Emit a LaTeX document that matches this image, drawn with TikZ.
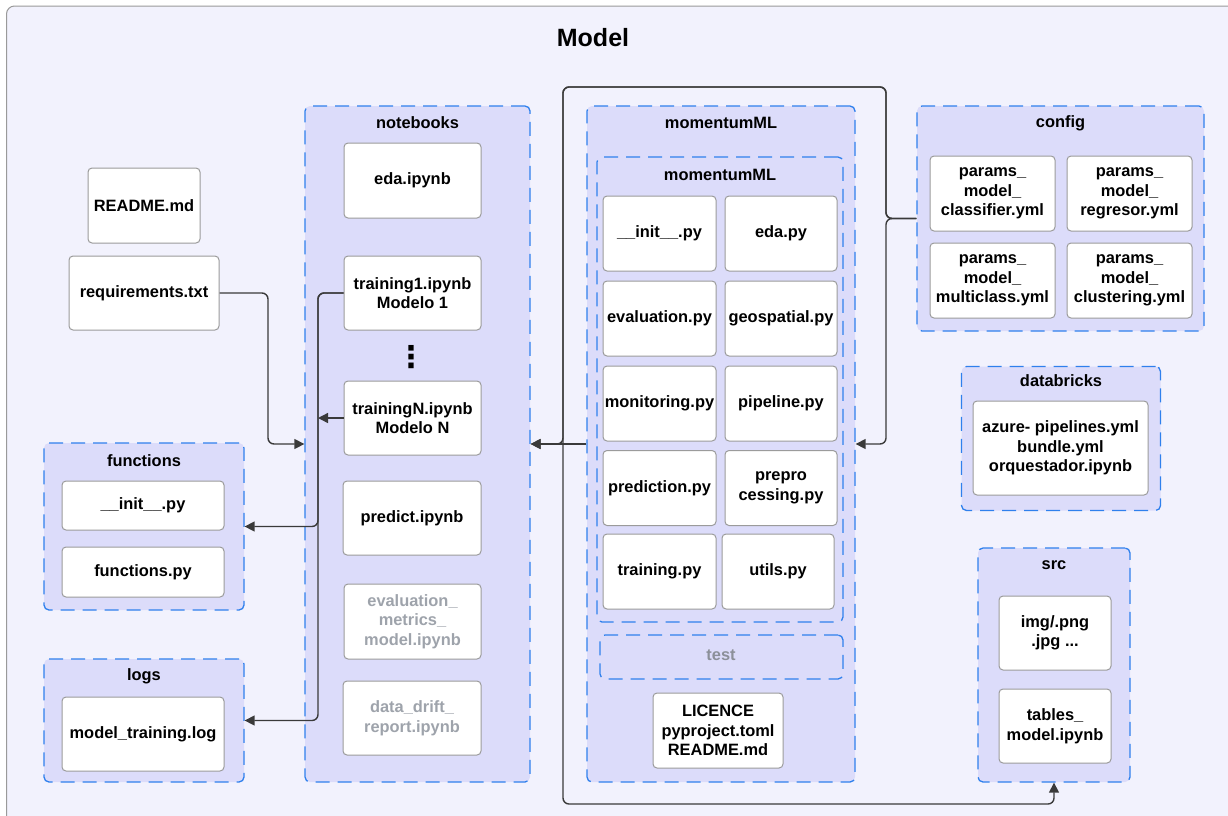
\documentclass[tikz,border=0pt]{standalone}
\usepackage{fontspec}
\setmainfont{Liberation Sans}
\newfontfamily\dejavu{DejaVu Sans}
\usetikzlibrary{arrows.meta}
\definecolor{outerfill}{HTML}{F2F2FD}
\definecolor{outerline}{HTML}{9A9A9A}
\definecolor{folderfill}{HTML}{DCDCFA}
\definecolor{folderline}{HTML}{2F80ED}
\definecolor{fileline}{HTML}{9B9B9B}
\definecolor{connline}{HTML}{3A3A3A}
\definecolor{greytext}{HTML}{9EA3AB}
\definecolor{testtext}{HTML}{8C9099}
\tikzset{
  every node/.style={font=\fontsize{16.4}{19.5}\selectfont\bfseries, inner sep=0pt, align=center},
  file/.style={draw=fileline, fill=white, line width=1pt, rounded corners=4pt},
  folder/.style={draw=folderline, fill=folderfill, line width=1.3pt, rounded corners=5pt, dash pattern=on 14pt off 8pt},
  ftitle/.style={},
  faded/.style={text=greytext},
  conn/.style={draw=connline, line width=1.4pt, rounded corners=6pt, -{Triangle[length=10pt,width=10pt]}}
}
\begin{document}
\begin{tikzpicture}[x=1pt,y=-1pt]
\useasboundingbox (0,0) rectangle (1228,815);
\clip (0,0) rectangle (1228,815);
\fill[white] (0,0) rectangle (1228,815);
\draw[draw=outerline, fill=outerfill, line width=1pt, rounded corners=8pt] (6.5,6) rectangle (1245,835);
\node[font=\fontsize{25}{30}\selectfont\bfseries] (title) at (593,38) {Model};

% top-level files
\node[file, minimum width=112pt, minimum height=75pt] (readme) at (144,205.5) {README.md};
\node[file, minimum width=150pt, minimum height=74pt] (requirements) at (144,293) {requirements.txt};

% notebooks
\node[folder, minimum width=225pt, minimum height=676pt] (notebooks) at (417.5,444) {};
\node[ftitle] (notebookst) at (417.5,123) {notebooks};
\node[file, minimum width=137pt, minimum height=75pt] (eda) at (412.5,180.5) {eda.ipynb};
\node[file, minimum width=137pt, minimum height=74pt] (training1) at (412.5,293) {training1.ipynb\\Modelo 1};
\node[font=\dejavu\fontsize{30}{30}\selectfont\bfseries] (dots) at (411,357) {⋮};
\node[file, minimum width=137pt, minimum height=74pt] (trainingN) at (412.5,418) {trainingN.ipynb\\Modelo N};
\node[file, minimum width=138pt, minimum height=74pt] (predict) at (412,518) {predict.ipynb};
\node[file, faded, minimum width=137pt, minimum height=75pt] (evalnb) at (412.5,621.5) {evaluation\_\\metrics\_\\model.ipynb};
\node[file, faded, minimum width=138pt, minimum height=74pt] (drift) at (412,718) {data\_drift\_\\report.ipynb};

% functions
\node[folder, minimum width=200pt, minimum height=167pt] (functions) at (144,526.5) {};
\node[ftitle] (functionst) at (144,461) {functions};
\node[file, minimum width=162pt, minimum height=49pt] (finit) at (143,505.5) {\_\_init\_\_.py};
\node[file, minimum width=162pt, minimum height=50pt] (fpy) at (143,572) {functions.py};

% logs
\node[folder, minimum width=200pt, minimum height=123pt] (logs) at (144,720.5) {};
\node[ftitle] (logst) at (144,676) {logs};
\node[file, minimum width=162pt, minimum height=74pt] (mtlog) at (143,734) {model\_training.log};

% momentumML
\node[folder, minimum width=268pt, minimum height=676pt] (mml) at (721,444) {};
\node[ftitle] (mmlt) at (721,123) {momentumML};
\node[folder, minimum width=246pt, minimum height=465pt] (mmlin) at (720,389.5) {};
\node[ftitle] (mmlint) at (720,175) {momentumML};
\node[file, minimum width=113pt, minimum height=75pt] (pinit) at (659.5,233.5) {\_\_init\_\_.py};
\node[file, minimum width=112pt, minimum height=75pt] (peda) at (781,233.5) {eda.py};
\node[file, minimum width=113pt, minimum height=75pt] (peval) at (659.5,318.5) {evaluation.py};
\node[file, minimum width=112pt, minimum height=75pt] (pgeo) at (781,318.5) {geospatial.py};
\node[file, minimum width=113pt, minimum height=75pt] (pmon) at (659.5,403.5) {monitoring.py};
\node[file, minimum width=112pt, minimum height=75pt] (ppipe) at (781,403.5) {pipeline.py};
\node[file, minimum width=113pt, minimum height=75pt] (ppred) at (659.5,488) {prediction.py};
\node[file, minimum width=112pt, minimum height=75pt] (ppre) at (781,488) {prepro\\cessing.py};
\node[file, minimum width=113pt, minimum height=75pt] (ptrain) at (659.5,571.5) {training.py};
\node[file, minimum width=112pt, minimum height=75pt] (putils) at (778,571.5) {utils.py};
\node[folder, minimum width=243pt, minimum height=44pt] (test) at (721.5,657) {};
\node[text=testtext] (testt) at (721,655) {test};
\node[file, minimum width=130pt, minimum height=75pt] (licence) at (718,730.5) {LICENCE\\pyproject.toml\\README.md};

% config
\node[folder, minimum width=287pt, minimum height=225pt] (config) at (1060.5,218.5) {};
\node[ftitle] (configt) at (1060.5,123) {config};
\node[file, minimum width=125pt, minimum height=75pt] (pclass) at (992.5,193.5) {params\_\\model\_\\classifier.yml};
\node[file, minimum width=125pt, minimum height=75pt] (preg) at (1129.5,193.5) {params\_\\model\_\\regresor.yml};
\node[file, minimum width=125pt, minimum height=75pt] (pmulti) at (992.5,280.5) {params\_\\model\_\\multiclass.yml};
\node[file, minimum width=125pt, minimum height=75pt] (pclust) at (1129.5,280.5) {params\_\\model\_\\clustering.yml};

% databricks
\node[folder, minimum width=199pt, minimum height=144pt] (databricks) at (1061,438.5) {};
\node[ftitle] (databrickst) at (1061,381) {databricks};
\node[file, minimum width=175pt, minimum height=94pt] (dbfiles) at (1060.5,448) {azure- pipelines.yml\\bundle.yml\\orquestador.ipynb};

% src
\node[folder, minimum width=152pt, minimum height=234pt] (src) at (1054,665) {};
\node[ftitle] (srct) at (1054,565) {src};
\node[file, minimum width=112pt, minimum height=74pt] (img) at (1055,633) {img/.png\\.jpg ...};
\node[file, minimum width=112pt, minimum height=74pt] (tables) at (1055,726) {tables\_\\model.ipynb};

% connectors
\coordinate (tnv) at (318,418);
\draw[conn] (requirements.east) -| (268,444) -- (notebooks.west);
\draw[conn] (training1.west) -| (318,526.5) -- (functions.east);
\draw[conn] (training1.west) -| (318,720.5) -- (logs.east);
\draw[conn] (trainingN.west) -- (tnv);
\draw[conn] (config.west) -| (886,444) -- (mml.east);
\draw[conn] (config.west) -| (886,87) -| (563,444) -- (notebooks.east);
\draw[conn] (config.west) -| (886,87) -| (563,804) -| (src.south);
\draw[conn] (mml.west) -- (notebooks.east);
\end{tikzpicture}
\end{document}
